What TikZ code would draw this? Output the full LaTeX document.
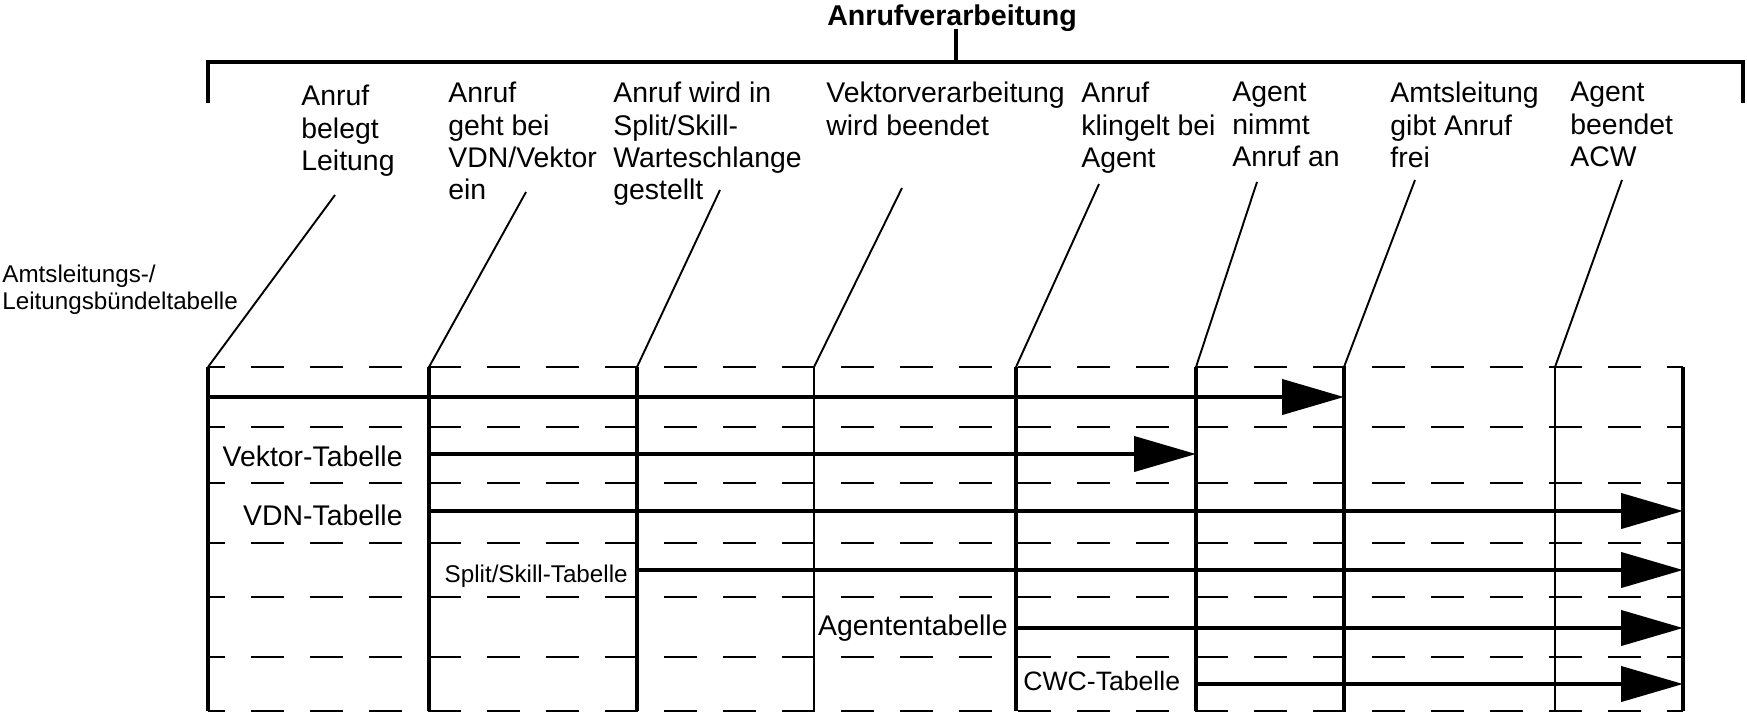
\documentclass[tikz,border=0pt]{standalone}
\usepackage{fontspec}
\setmainfont{Liberation Sans}
\usetikzlibrary{arrows.meta}
\begin{document}
\begin{tikzpicture}[x=0.5pt,y=-0.5pt,
  lbl/.style={font=\fontsize{14.2}{16.15}\selectfont, align=left, inner sep=0pt, anchor=north west},
  sml/.style={font=\fontsize{12.1}{13.5}\selectfont, align=left, inner sep=0pt},
  tbl/.style={font=\fontsize{14.2}{16}\selectfont, inner sep=0pt},
  thickv/.style={line width=2.25pt},
  thinv/.style={line width=1.3pt},
  leader/.style={line width=0.95pt},
  rowline/.style={line width=1pt, dash pattern=on 16.5pt off 13pt, dash phase=8pt},
  flow/.style={line width=2.1pt, -{Triangle[length=31pt,width=17.5pt]}},
  brk/.style={line width=2pt}
]
\useasboundingbox (0,0) rectangle (1747,714);

% title and bracket
\node[font=\fontsize{14.3}{16}\selectfont\bfseries, inner sep=0pt, anchor=base] (title) at (952,25) {Anrufverarbeitung};
\coordinate (bl) at (208,103);
\coordinate (blt) at (208,62);
\coordinate (brt) at (1743,62);
\coordinate (br) at (1743,103);
\coordinate (tick) at (956,29);
\coordinate (tickb) at (956,62);
\draw[brk] (bl) -- (blt) -- (brt) -- (br);
\draw[brk] (tick) -- (tickb);

% column tops / bottoms
\foreach \i/\x in {1/208,2/429,3/637,4/814,5/1016,6/1196,7/1344,8/1555,9/1683}{
  \coordinate (t\i) at (\x,367);
  \coordinate (b\i) at (\x,711);
}

% dashed rows
\foreach \y [count=\k] in {367,427,483,543,597,657,711}{
  \coordinate (rl\k) at (208,\y);
  \coordinate (rr\k) at (1683,\y);
  \draw[rowline] (rl\k) -- (rr\k);
}

% verticals
\foreach \i in {1,2,3,5,6,7,9}{ \draw[thickv] (t\i) -- (b\i); }
\foreach \i in {4,8}{ \draw[thinv] (t\i) -- (b\i); }

% column labels
\node[lbl] (c1) at (301,85) {Anruf\\belegt\\Leitung};
\node[lbl] (c2) at (448,82) {Anruf\\geht bei\\VDN/Vektor\\ein};
\node[lbl] (c3) at (613,82) {Anruf wird in\\Split/Skill-\\Warteschlange\\gestellt};
\node[lbl] (c4) at (826,82) {Vektorverarbeitung\\wird beendet};
\node[lbl] (c5) at (1081,82) {Anruf\\klingelt bei\\Agent};
\node[lbl] (c6) at (1232,82) {Agent\\nimmt\\Anruf an};
\node[lbl] (c7) at (1390,82) {Amtsleitung\\gibt Anruf\\frei};
\node[lbl] (c8) at (1570,82) {Agent\\beendet\\ACW};

% leader lines
\foreach \i/\x/\y in {1/335/195,2/526/192,3/720/190,4/902/188,5/1099/184,6/1257/182,7/1415/180,8/1622/180}{
  \coordinate (u\i) at (\x,\y);
  \draw[leader] (u\i) -- (t\i);
}

% table labels
\node[sml, anchor=north west] (amt) at (2,265) {Amtsleitungs-/\\Leitungsb\"undeltabelle};
\node[tbl, anchor=base east] (vek) at (403,466) {Vektor-Tabelle};
\node[tbl, anchor=base east] (vdn) at (403,525) {VDN-Tabelle};
\node[sml, anchor=base east] (spl) at (628,582) {Split/Skill-Tabelle};
\node[tbl, anchor=base east] (agt) at (1008,635) {Agententabelle};
\node[font=\fontsize{13.3}{15}\selectfont, inner sep=0pt, anchor=base west] (cwc) at (1023,690) {CWC-Tabelle};

% flow arrows
\coordinate (a1s) at (208,397);  \coordinate (a1e) at (1344,397);
\coordinate (a2s) at (429,454);  \coordinate (a2e) at (1196,454);
\coordinate (a3s) at (429,511);  \coordinate (a3e) at (1683,511);
\coordinate (a4s) at (637,570);  \coordinate (a4e) at (1683,570);
\coordinate (a5s) at (1016,628); \coordinate (a5e) at (1683,628);
\coordinate (a6s) at (1196,684); \coordinate (a6e) at (1683,684);
\foreach \i in {1,...,6}{ \draw[flow] (a\i s) -- (a\i e); }
\end{tikzpicture}
\end{document}
